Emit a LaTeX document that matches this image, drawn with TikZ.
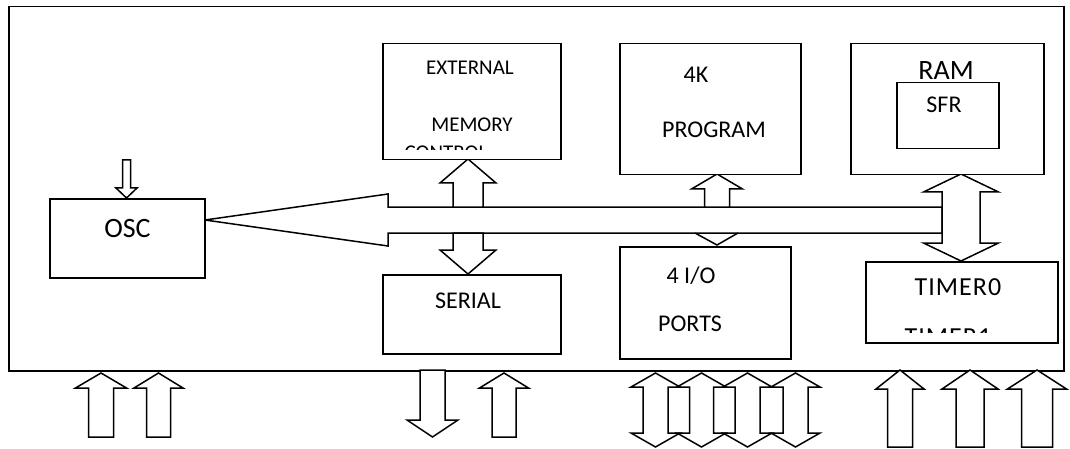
\documentclass[tikz,border=0pt]{standalone}
\usepackage{fontspec}
\setmainfont{Carlito}
\newcommand\blkarr[7][arr]{% cx tip headbase end headhalf shafthalf
  \draw[#1] (#2,#3) -- ({#2+#6},#4) -- ({#2+#7},#4) -- ({#2+#7},#5) -- ({#2-#7},#5) -- ({#2-#7},#4) -- ({#2-#6},#4) -- cycle;}
\newcommand\blkdbl[8][arr]{% cx t1 b1 b2 t2 hh sh
  \draw[#1] (#2,#3) -- ({#2+#7},#4) -- ({#2+#8},#4) -- ({#2+#8},#5) -- ({#2+#7},#5) -- (#2,#6) -- ({#2-#7},#5) -- ({#2-#8},#5) -- ({#2-#8},#4) -- ({#2-#7},#4) -- cycle;}
\begin{document}
\begin{tikzpicture}[x=1pt,y=-1pt,line width=1.5pt,line join=miter,
  box/.style={draw,rectangle,inner sep=0pt,anchor=north west},
  arr/.style={draw,fill=white},
  arrnofill/.style={draw},
  lbl/.style={inner sep=0pt,anchor=base,font=\fontsize{24}{28}\selectfont},
  lblsm/.style={lbl,font=\fontsize{21}{25}\selectfont},
  lblbig/.style={lbl,font=\fontsize{28}{32}\selectfont},
  lblwide/.style={lbl,font=\fontsize{26}{30}\selectfont\addfontfeatures{LetterSpace=4}}]
\useasboundingbox (0,0) rectangle (1070,449);
% outer frame
\node[box,minimum width=1055pt,minimum height=364pt] (frame) at (8,6) {};
% bus (big arrow to OSC)
\draw[arr] (205,220) -- (388,194) -- (388,207) -- (942,207) -- (942,233) -- (388,233) -- (388,246) -- cycle;
% RAM <-> TIMER double arrow
\blkdbl{961}{174}{192}{243}{261}{37.5}{19}
% external memory / serial arrows
\blkarr{468}{159}{183}{207}{28}{15}
\blkarr{468}{274}{250}{233}{28}{15}
% program arrow
\blkarr{717}{174}{189}{207}{25.5}{12.5}
% I/O head
\draw (695,233) -- (717,245) -- (738,233);
% OSC input arrow
\blkarr{126.5}{198}{188}{160}{10.5}{4}
% bottom arrows
\blkarr{101}{373}{388}{437}{25.5}{12.5}
\blkarr{158.5}{373}{388}{437}{24.5}{12}
\blkarr{432.5}{437}{420}{370}{25.5}{12.5}
\blkarr{504}{373}{388}{437}{24.5}{12}
\blkdbl[arrnofill]{655.5}{373}{387}{433}{447}{24.5}{12.5}
\blkdbl[arrnofill]{701.5}{373}{387}{433}{447}{24.5}{12}
\blkdbl[arrnofill]{747.5}{373}{387}{433}{447}{24.5}{12.5}
\blkdbl[arrnofill]{795.5}{373}{387}{433}{447}{24.5}{12.5}
\blkarr{900}{370}{389}{447}{24}{12.5}
\blkarr{970}{370}{389}{447}{28}{14}
\blkarr{1037}{370}{389}{447}{29.5}{15.5}
% boxes
\node[box,fill=white,minimum width=178pt,minimum height=116pt] (ext) at (382,43) {};
\node[box,fill=white,minimum width=181pt,minimum height=131pt] (prog) at (619,43) {};
\node[box,fill=white,minimum width=193pt,minimum height=131pt] (ram) at (850,43) {};
\node[box,fill=white,minimum width=102pt,minimum height=66pt] (sfr) at (896,82) {};
\node[box,fill=white,minimum width=155pt,minimum height=79pt] (osc) at (49,198) {};
\node[box,fill=white,minimum width=178pt,minimum height=79pt] (serial) at (382,274) {};
\node[box,fill=white,minimum width=171pt,minimum height=112pt] (io) at (619,246) {};
\node[box,fill=white,minimum width=192pt,minimum height=81pt] (timer) at (865,261) {};
% labels
\node[lblsm] (t-ext1) at (470,75) {EXTERNAL};
\node[lblsm] (t-ext2) at (472,132) {MEMORY};
\begin{scope}
  \clip (383,44) rectangle (559,150);
  \node[lblsm] (t-ext3) at (446,160) {CONTROL};
\end{scope}
\node[lbl] (t-prog1) at (696,83) {4K};
\node[lbl] (t-prog2) at (714,138) {PROGRAM};
\node[lblbig] (t-ram) at (946,80) {RAM};
\node[lbl] (t-sfr) at (944,113) {SFR};
\node[lblbig] (t-osc) at (127.5,237) {OSC};
\node[lbl] (t-serial) at (468,308) {SERIAL};
\node[lbl] (t-io1) at (691,283) {4 I/O};
\node[lbl] (t-io2) at (690,331) {PORTS};
\node[lblwide] (t-timer0) at (958,295) {TIMER0};
\begin{scope}
  \clip (866,262) rectangle (1056,332);
  \node[lblwide] (t-timer1) at (948,345) {TIMER1};
\end{scope}
\end{tikzpicture}
\end{document}
